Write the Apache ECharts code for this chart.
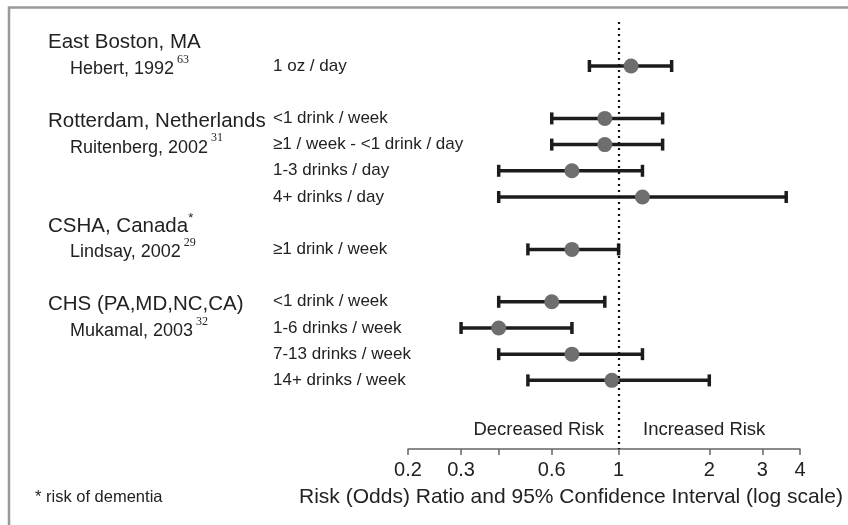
<!DOCTYPE html>
<html>
<head>
<meta charset="utf-8">
<script src="https://cdn.jsdelivr.net/npm/echarts@6/dist/echarts.min.js"></script>
<style>
html,body{margin:0;padding:0;background:#fff;}
#chart{width:848px;height:525px;}
</style>
</head>
<body>
<div id="chart"></div>
<script>
// ---- data ----
const doseLabels = ['1 oz / day', '<1 drink / week', '\u22651 / week - <1 drink / day', '1-3 drinks / day', '4+ drinks / day',
  '\u22651 drink / week', '<1 drink / week', '1-6 drinks / week', '7-13 drinks / week', '14+ drinks / week'];
const rowIndex = [0, 2, 3, 4, 5, 7, 9, 10, 11, 12];
const estimate = [1.1, 0.9, 0.9, 0.7, 1.2, 0.7, 0.6, 0.4, 0.7, 0.95];
const lowerCI  = [0.8, 0.6, 0.6, 0.4, 0.4, 0.5, 0.4, 0.3, 0.4, 0.5];
const upperCI  = [1.5, 1.4, 1.4, 1.2, 3.6, 1.0, 0.9, 0.7, 1.2, 2.0];

const studyNames  = ['East Boston, MA', 'Rotterdam, Netherlands', 'CSHA, Canada', 'CHS (PA,MD,NC,CA)'];
const studyMarks  = ['', '', '*', ''];
const studyRows   = [-1, 2, 6, 9];
const authorNames = ['Hebert, 1992', 'Ruitenberg, 2002', 'Lindsay, 2002', 'Mukamal, 2003'];
const authorRefs  = ['63', '31', '29', '32'];
const authorRows  = [0, 3, 7, 10];

const xTickValues  = [0.2, 0.3, 0.4, 0.6, 1, 2, 3, 4];
const xLabelValues = [0.2, 0.3, 0.6, 1, 2, 3, 4];
const axisTitle = 'Risk (Odds) Ratio and 95% Confidence Interval (log scale)';
const footnote = '* risk of dementia';
const leftNote = 'Decreased Risk';
const rightNote = 'Increased Risk';

// ---- build ----
const FONT = '"Liberation Sans", Arial, Helvetica, sans-serif';
const TXT = '#222';
const chart = echarts.init(document.getElementById('chart'), null, {renderer: 'canvas'});

const studyLabelMap = {};
studyRows.forEach((r, i) => { studyLabelMap[r] = {type: 'h', i}; });
authorRows.forEach((r, i) => { studyLabelMap[r] = {type: 'a', i}; });
const doseMap = {};
rowIndex.forEach((r, i) => { doseMap[r] = doseLabels[i]; });

const ciData = rowIndex.map((r, i) => [lowerCI[i], estimate[i], upperCI[i], r]);

const yMin = -1.68, yMax = 14.62;

const option = {
  backgroundColor: '#fff',
  animation: false,
  grid: {left: 408, right: 48, top: 22, bottom: 76, containLabel: false},
  xAxis: {
    type: 'log', logBase: 10, min: 0.2, max: 4,
    axisLine: {show: true, onZero: false, lineStyle: {color: '#666', width: 1.5}},
    axisTick: {show: true, length: 6, lineStyle: {color: '#666', width: 1.5}, customValues: xTickValues},
    minorTick: {show: false},
    splitLine: {show: false},
    axisLabel: {
      customValues: xLabelValues, margin: 11, color: TXT, fontSize: 20, fontFamily: FONT,
      formatter: v => String(+(+v).toPrecision(3))
    }
  },
  yAxis: [
    {
      type: 'value', inverse: true, min: yMin, max: yMax, position: 'left',
      axisLine: {show: false}, axisTick: {show: false}, splitLine: {show: false},
      axisLabel: {
        customValues: studyRows.concat(authorRows), margin: 360, align: 'left', color: TXT, fontFamily: FONT,
        formatter: v => {
          const m = studyLabelMap[Math.round(v)];
          if (!m) return '';
          if (m.type === 'h') {
            return '{h|' + studyNames[m.i] + '}' + (studyMarks[m.i] ? '{hs|' + studyMarks[m.i] + '}' : '');
          }
          return '{a|' + authorNames[m.i] + '}{s|' + authorRefs[m.i] + '}';
        },
        rich: {
          h: {fontSize: 20.5, lineHeight: 22, fontFamily: FONT, color: TXT, padding: [6, 0, 0, 0]},
          hs: {fontSize: 13, lineHeight: 13, fontFamily: FONT, color: TXT, padding: [0, 0, 9, 0]},
          a: {fontSize: 18, lineHeight: 20, fontFamily: FONT, color: TXT, padding: [6, 0, 0, 22]},
          s: {fontSize: 12, lineHeight: 12, fontFamily: '"Liberation Serif", "Times New Roman", serif', color: TXT, padding: [0, 0, 13, 3]}
        }
      }
    },
    {
      type: 'value', inverse: true, min: yMin, max: yMax, position: 'left',
      axisLine: {show: false}, axisTick: {show: false}, splitLine: {show: false},
      axisLabel: {
        customValues: rowIndex, margin: 135, align: 'left', color: TXT, fontFamily: FONT, fontSize: 17,
        padding: [6, 0, 0, 0],
        formatter: v => doseMap[Math.round(v)] || ''
      }
    }
  ],
  series: [
    {
      type: 'custom',
      xAxisIndex: 0, yAxisIndex: 0,
      data: ciData,
      renderItem: (params, api) => {
        const y = api.value(3);
        const pL = api.coord([api.value(0), y]);
        const pE = api.coord([api.value(1), y]);
        const pH = api.coord([api.value(2), y]);
        const capH = 6;
        const st = {stroke: '#1c1c1c', lineWidth: 3.5};
        return {
          type: 'group',
          children: [
            {type: 'line', shape: {x1: pL[0], y1: pL[1], x2: pH[0], y2: pH[1]}, style: st},
            {type: 'line', shape: {x1: pL[0], y1: pL[1] - capH, x2: pL[0], y2: pL[1] + capH}, style: st},
            {type: 'line', shape: {x1: pH[0], y1: pH[1] - capH, x2: pH[0], y2: pH[1] + capH}, style: st},
            {type: 'circle', shape: {cx: pE[0], cy: pE[1], r: 7.5}, style: {fill: '#6e6e6e'}, z2: 10}
          ]
        };
      },
      markLine: {
        silent: true, symbol: 'none', label: {show: false},
        lineStyle: {color: '#111', type: [2, 4], width: 2.2},
        data: [{xAxis: 1}]
      },
      z: 3
    }
  ],
  graphic: [
    {type: 'polyline', shape: {points: [[9, 525], [9, 7.5], [850, 7.5]]}, style: {stroke: '#999', lineWidth: 2.5, fill: null}, silent: true},
    {type: 'text', style: {text: axisTitle, x: 571, y: 497, align: 'center', verticalAlign: 'middle', font: '21px ' + FONT, fill: TXT}},
    {type: 'text', style: {text: footnote, x: 35, y: 497, align: 'left', verticalAlign: 'middle', font: '16.5px ' + FONT, fill: TXT}},
    {type: 'text', style: {text: leftNote, x: 604, y: 430, align: 'right', verticalAlign: 'middle', font: '18.5px ' + FONT, fill: TXT}},
    {type: 'text', style: {text: rightNote, x: 643, y: 430, align: 'left', verticalAlign: 'middle', font: '18.5px ' + FONT, fill: TXT}}
  ]
};
chart.setOption(option);
</script>
</body>
</html>
